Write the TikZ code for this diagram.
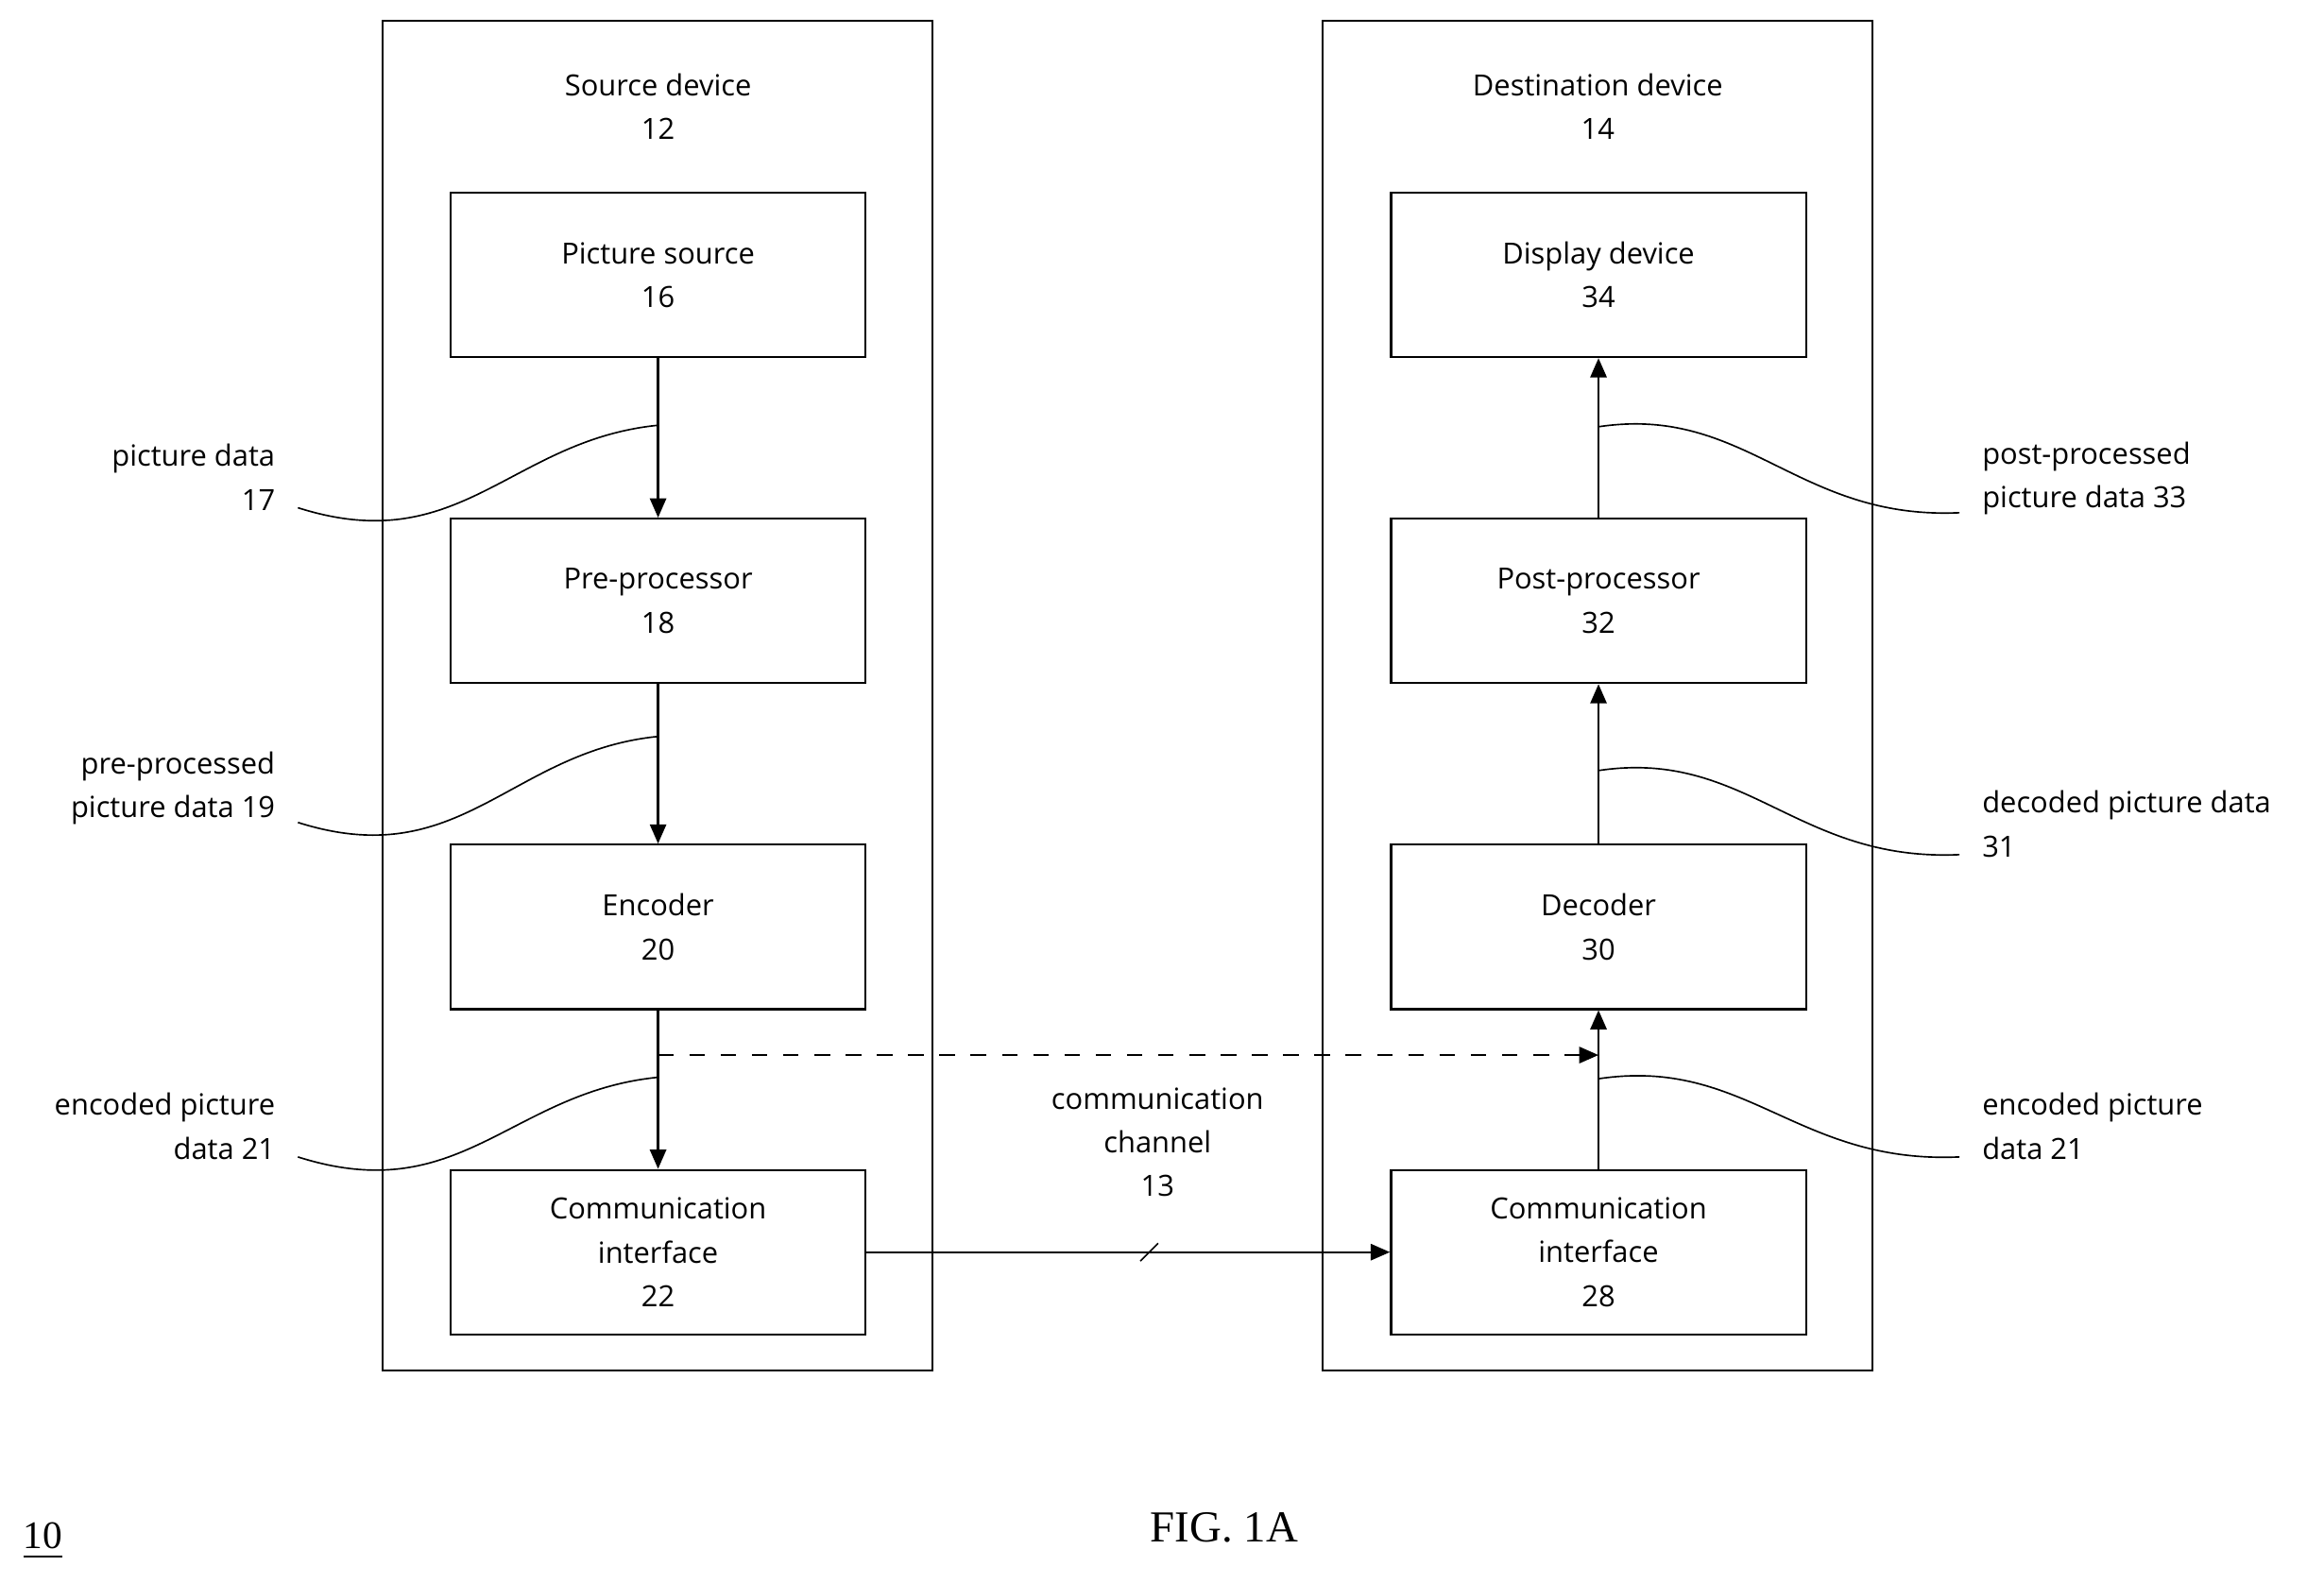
\documentclass[tikz,border=0pt]{standalone}
\usepackage{fontspec}
\setmainfont{Open Sans}
\newfontfamily\figfont{Liberation Serif}
\usetikzlibrary{arrows.meta,calc}
\begin{document}
\begin{tikzpicture}[thin, font=\fontsize{5.6}{8.4}\selectfont,
    device/.style = {draw, minimum width=3.71cm, minimum height=9.11cm},
    unit/.style = {draw, minimum width=2.8cm, minimum height=1.11cm, align=center},
    flow/.style = {-{Triangle[length=1.3mm,width=1.1mm]}},
    lead/.style = {line width=0.3pt},
    note/.style = {align=right, anchor=east},
    rnote/.style = {align=left, anchor=west}]
    \useasboundingbox (0,0) rectangle (15.68,10.68);

    % devices
    \node[device] (src) at (4.435,5.985) {};
    \node[device] (dst) at (10.78,5.985) {};
    \node[align=center] (src12) at (4.44,9.96) {Source device\\12};
    \node[align=center] (dst14) at (10.78,9.96) {Destination device\\14};

    % source units
    \node[unit] (pic)  at (4.44,8.825) {Picture source\\16};
    \node[unit] (pre)  at (4.44,6.625) {Pre-processor\\18};
    \node[unit] (enc)  at (4.44,4.425) {Encoder\\20};
    \node[unit] (ci22) at (4.44,2.23) {Communication\\interface\\22};

    % destination units
    \node[unit] (disp) at (10.785,8.825) {Display device\\34};
    \node[unit] (post) at (10.785,6.625) {Post-processor\\32};
    \node[unit] (dec)  at (10.785,4.425) {Decoder\\30};
    \node[unit] (ci28) at (10.785,2.23) {Communication\\interface\\28};

    % flows
    \draw[flow] (pic) -- (pre);
    \draw[flow] (pre) -- (enc);
    \draw[flow] (enc) -- (ci22);
    \draw[flow] (ci28) -- (dec);
    \draw[flow] (dec) -- (post);
    \draw[flow] (post) -- (disp);
    \coordinate (tap) at (4.44,3.56);
    \coordinate (join) at (10.785,3.56);
    \draw[flow, dashed] (tap) -- (join);
    \draw[flow] (ci22.east |- 0,2.23) -- (ci28.west |- 0,2.23) coordinate[pos=0.54] (mid);
    \draw[lead] ($(mid)+(-0.06,-0.06)$) -- ($(mid)+(0.06,0.06)$);
    \node[align=center, anchor=south] (ch13) at (7.81,2.48) {communication\\channel\\13};

    % left notes
    \node[note] (n17) at (1.98,7.46) {picture data\\17};
    \node[note] (n19) at (1.98,5.36) {pre-processed\\picture data 19};
    \node[note] (n21) at (1.98,3.08) {encoded picture\\data 21};
    \coordinate (c17) at (4.44,7.81);
    \coordinate (c19) at (4.44,5.71);
    \coordinate (c21) at (4.44,3.41);
    \foreach \n/\c in {n17/c17,n19/c19,n21/c21}
        \draw[lead] ($(\n.south east)+(0.03,0.14)$) .. controls +(1.1,-0.35) and +(-1.0,-0.1) .. (\c);

    % right notes
    \node[rnote] (n33) at (13.25,7.45) {post-processed\\picture data 33};
    \node[rnote] (n31) at (13.25,5.12) {decoded picture data\\31};
    \node[rnote] (n21r) at (13.25,3.08) {encoded picture\\data 21};
    \coordinate (c33) at (10.785,7.8);
    \coordinate (c31) at (10.785,5.48);
    \coordinate (c21r) at (10.785,3.4);
    \foreach \n/\c in {n33/c33,n31/c31,n21r/c21r}
        \draw[lead] ($(\n.south west)+(-0.03,0.14)$) .. controls +(-1.1,-0.05) and +(1.0,0.15) .. (\c);

    % caption
    \node[font=\figfont\fontsize{8.5}{10}\selectfont] (fig) at (8.26,0.37) {FIG. 1A};
    \node[font=\figfont\fontsize{7.5}{9}\selectfont] (ref10) at (0.29,0.28) {\underline{10}};
\end{tikzpicture}
\end{document}
